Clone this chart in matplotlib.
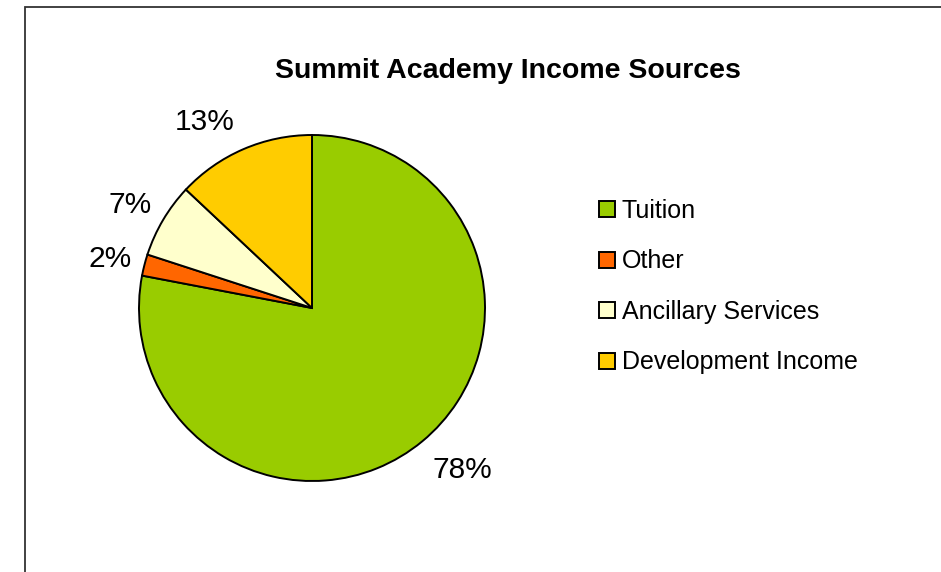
import matplotlib.pyplot as plt

# income share by source (percent)
sources = ['Tuition', 'Other', 'Ancillary Services', 'Development Income']
shares = [78, 2, 7, 13]
colors = ['#99CC00', '#FF6600', '#FFFFCC', '#FFCC00']
title = 'Summit Academy Income Sources'

plt.rcParams['font.family'] = ['Liberation Sans', 'DejaVu Sans']

W, H = 941, 572
fig = plt.figure(figsize=(W / 100, H / 100), dpi=100)
ax = fig.add_axes([0, 0, 1, 1])

# chart area frame (only top and left show in the crop)
ax.plot([25, 25, W + 5], [-5, H - 7, H - 7], color='#333333', lw=1.3,
        solid_joinstyle='miter')

wedges, _, autotexts = ax.pie(
    shares, colors=colors, startangle=90, counterclock=False,
    center=(312, H - 308), radius=173, frame=True,
    autopct='%1.0f%%', pctdistance=1.24,
    wedgeprops=dict(edgecolor='black', linewidth=1.4),
    textprops=dict(fontsize=21.5, color='black'))
ax.set_xlim(0, W)
ax.set_ylim(0, H)
ax.set_aspect('equal')
ax.axis('off')

# nudge the percent labels to where Excel put them (baseline positions, px)
label_xy = [(462, 478), (110, 267), (130, 213), (205, 130)]
for t, (x, y) in zip(autotexts, label_xy):
    t.set_position((x, H - y))
    t.set_ha('center')
    t.set_va('baseline')

ax.text(508, H - 78, title, ha='center', va='baseline',
        fontsize=20.5, fontweight='bold')

leg = ax.legend(wedges, sources, loc='upper left',
                bbox_to_anchor=(599 / W, (H - 199) / H),
                frameon=False, fontsize=18, handlelength=0.62,
                handleheight=0.62, handletextpad=0.3, labelspacing=1.06,
                borderaxespad=0, borderpad=0)

fig.savefig('out.png', dpi=100)
